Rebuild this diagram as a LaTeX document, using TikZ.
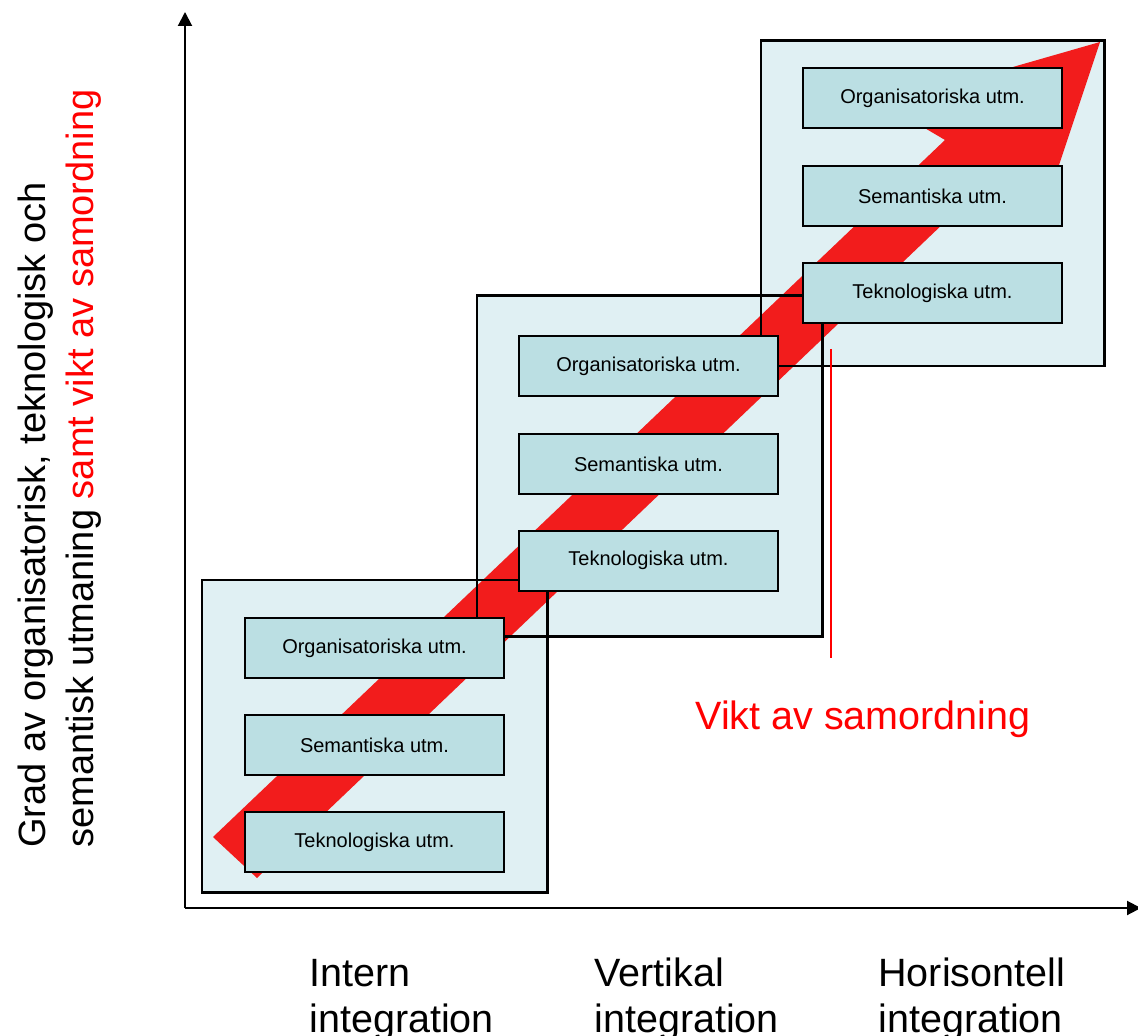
\documentclass[tikz,border=0pt]{standalone}
\usepackage{fontspec}
\setmainfont{Liberation Sans}
\usetikzlibrary{arrows.meta}
\definecolor{innerfill}{RGB}{187,223,227}
\definecolor{outerfill}{RGB}{224,240,243}
\definecolor{arrowred}{RGB}{242,28,28}
\begin{document}
\begin{tikzpicture}[x=0.5pt,y=-0.5pt,
  outerfillbox/.style={draw=none,fill=outerfill,inner sep=0pt},
  outerline/.style={draw=black,line width=1.1pt},
  innerbox/.style={draw=black,line width=1pt,fill=innerfill,minimum width=129.5pt,minimum height=30pt,inner sep=0pt,font=\fontsize{10}{12}\selectfont},
  axisline/.style={line width=1pt,-{Triangle[width=7pt,length=7pt]}},
  biglabel/.style={font=\fontsize{19.75}{23}\selectfont,inner sep=0pt,anchor=base west},
  ylabel/.style={font=\fontsize{19}{23}\selectfont,inner sep=0pt,anchor=base west,rotate=90}
]
\useasboundingbox (0,0) rectangle (1138,1036);

% group backgrounds
\node[outerfillbox,minimum width=172.5pt,minimum height=156pt] (g1) at (374.5,736) {};
\node[outerfillbox,minimum width=172.5pt,minimum height=170pt] (g2) at (649.5,466) {};
\node[outerfillbox,minimum width=171.5pt,minimum height=162.5pt] (g3) at (932.5,203.5) {};

% big red arrow
\fill[arrowred] (213,837) -- (945,140) -- (884,104) -- (1100,42) -- (1040,222) -- (968,200) -- (257,878) -- cycle;

% group outlines
\draw[outerline] (g1.north west) rectangle (g1.south east);
\draw[outerline] (g2.north west) rectangle (g2.south east);
\draw[outerline] (g3.north west) rectangle (g3.south east);

% inner boxes
\node[innerbox] (o1) at (374.5,648) {Organisatoriska utm.};
\node[innerbox] (s1) at (374.5,745) {Semantiska utm.};
\node[innerbox] (t1) at (374.5,842) {Teknologiska utm.};
\node[innerbox] (o2) at (648.5,366.5) {Organisatoriska utm.};
\node[innerbox] (s2) at (648.5,464) {Semantiska utm.};
\node[innerbox] (t2) at (648.5,560.5) {Teknologiska utm.};
\node[innerbox] (o3) at (932.5,98.5) {Organisatoriska utm.};
\node[innerbox] (s3) at (932.5,196) {Semantiska utm.};
\node[innerbox] (t3) at (932.5,293) {Teknologiska utm.};

% axes
\coordinate (O) at (185,908);
\coordinate (ytop) at (185,12);
\coordinate (xend) at (1141,908);
\draw[axisline] (O) -- (ytop);
\draw[axisline] (O) -- (xend);

% red marker line
\coordinate (m1) at (831,349);
\coordinate (m2) at (831,658);
\draw[red,line width=1.1pt] (m1) -- (m2);
\node[biglabel,anchor=base,text=red] (vikt) at (863,729) {Vikt av samordning};

% x labels
\node[biglabel] (x1a) at (309,986) {Intern};
\node[biglabel] (x1b) at (309,1032) {integration};
\node[biglabel] (x2a) at (594,986) {Vertikal};
\node[biglabel] (x2b) at (594,1032) {integration};
\node[biglabel] (x3a) at (878,986) {Horisontell};
\node[biglabel] (x3b) at (878,1032) {integration};

% y label
\node[ylabel] (y1) at (45,848) {Grad av organisatorisk, teknologisk och};
\node[ylabel] (y2) at (93,848) {semantisk utmaning \textcolor{red}{samt vikt av samordning}};
\end{tikzpicture}
\end{document}
